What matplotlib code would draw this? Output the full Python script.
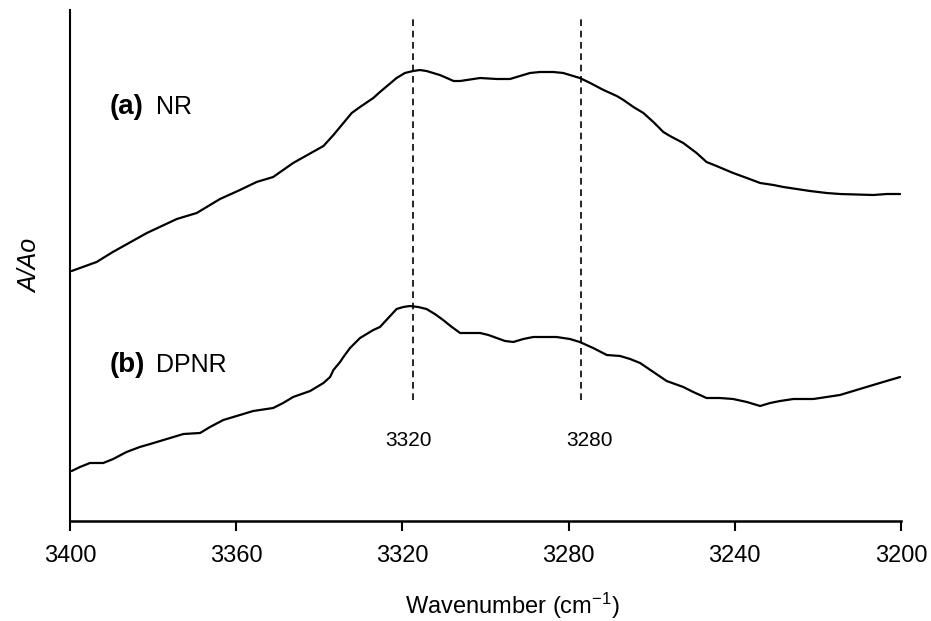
import matplotlib
matplotlib.use("Agg")
import matplotlib.pyplot as plt

plt.rcParams['font.family'] = ['Liberation Sans', 'DejaVu Sans']
plt.rcParams['mathtext.fontset'] = 'custom'
plt.rcParams['mathtext.rm'] = 'Liberation Sans'
plt.rcParams['mathtext.it'] = 'Liberation Sans:italic'
plt.rcParams['mathtext.bf'] = 'Liberation Sans:bold'

# Wavenumber (cm-1) and relative absorbance
wn_nr = [3399.6, 3393.6, 3389.7, 3381.5, 3374.3, 3369.5, 3363.9, 3359.1, 3355.1, 3351.1,
         3346.3, 3339.0, 3336.6, 3334.2, 3332.2, 3330.2, 3327.0, 3325.4, 3323.4, 3321.4,
         3319.4, 3317.4, 3315.8, 3314.2, 3312.6, 3311.0, 3309.3, 3307.7, 3306.1, 3304.5,
         3301.3, 3297.3, 3294.1, 3292.5, 3290.9, 3289.3, 3286.9, 3283.7, 3281.3, 3278.9,
         3277.3, 3274.8, 3271.6, 3268.4, 3266.8, 3264.4, 3262.0, 3259.6, 3257.2, 3255.6,
         3252.4, 3249.2, 3246.8, 3244.4, 3240.4, 3237.1, 3233.9, 3230.7, 3228.3, 3221.9,
         3217.9, 3214.7, 3206.7, 3203.4, 3200.2]
a_nr = [2.50, 2.59, 2.69, 2.88, 3.02, 3.08, 3.22, 3.31, 3.39, 3.44,
        3.58, 3.75, 3.86, 3.98, 4.08, 4.14, 4.23, 4.29, 4.36, 4.43,
        4.48, 4.50, 4.51, 4.50, 4.48, 4.46, 4.43, 4.40, 4.40, 4.41,
        4.43, 4.42, 4.42, 4.44, 4.46, 4.48, 4.49, 4.49, 4.48, 4.45,
        4.43, 4.38, 4.31, 4.25, 4.21, 4.14, 4.08, 3.99, 3.89, 3.85,
        3.78, 3.68, 3.59, 3.55, 3.48, 3.43, 3.38, 3.36, 3.34, 3.30,
        3.28, 3.27, 3.26, 3.27, 3.27]

wn_dpnr = [3399.6, 3397.6, 3395.2, 3392.0, 3389.6, 3386.4, 3383.2, 3380.7, 3376.7, 3372.7,
           3368.7, 3366.3, 3363.1, 3359.9, 3355.9, 3351.1, 3348.7, 3346.3, 3342.2, 3339.0,
           3337.4, 3336.6, 3335.0, 3334.2, 3332.6, 3330.2, 3329.4, 3327.0, 3325.4, 3323.4,
           3321.4, 3319.8, 3318.2, 3316.2, 3314.2, 3312.2, 3310.2, 3308.1, 3306.1, 3303.7,
           3301.3, 3299.3, 3297.3, 3295.3, 3293.3, 3290.9, 3288.5, 3285.3, 3282.9, 3279.7,
           3277.3, 3274.1, 3270.8, 3267.6, 3265.2, 3262.8, 3259.6, 3256.4, 3252.4, 3250.0,
           3246.8, 3243.6, 3240.4, 3237.1, 3233.9, 3231.5, 3229.1, 3225.9, 3221.1, 3217.9,
           3214.7, 3211.5, 3208.3, 3204.3, 3200.2]
a_dpnr = [0.50, 0.54, 0.58, 0.58, 0.62, 0.69, 0.74, 0.77, 0.82, 0.87,
          0.88, 0.94, 1.01, 1.05, 1.10, 1.13, 1.18, 1.24, 1.30, 1.38,
          1.44, 1.51, 1.59, 1.64, 1.73, 1.83, 1.85, 1.91, 1.94, 2.03,
          2.12, 2.14, 2.15, 2.14, 2.12, 2.07, 2.01, 1.94, 1.88, 1.88,
          1.88, 1.86, 1.83, 1.80, 1.79, 1.82, 1.84, 1.84, 1.84, 1.82,
          1.79, 1.73, 1.66, 1.65, 1.62, 1.58, 1.49, 1.40, 1.34, 1.29,
          1.23, 1.23, 1.22, 1.19, 1.15, 1.18, 1.20, 1.22, 1.22, 1.24,
          1.26, 1.30, 1.34, 1.39, 1.44]

x_ticks = [3400, 3360, 3320, 3280, 3240, 3200]
marker_wn = [3317.4, 3277.0]
marker_labels = ["3320", "3280"]
marker_label_wn = [3318.6, 3274.9]

fig = plt.figure(figsize=(9.31, 6.21), dpi=100)
ax = fig.add_axes([70/931, 1 - 521/621, 831/931, 511/621])

ax.plot(wn_nr, a_nr, color='black', lw=1.6, solid_joinstyle='round', solid_capstyle='round')
ax.plot(wn_dpnr, a_dpnr, color='black', lw=1.6, solid_joinstyle='round', solid_capstyle='round')

for w in marker_wn:
    ax.plot([w, w], [1.21, 5.04], color='black', lw=1.2, ls=(0, (4, 2.8)))
for w, lab in zip(marker_label_wn, marker_labels):
    ax.text(w, 0.80, lab, ha='center', va='center', fontsize=15)

ax.text(3390.4, 4.14, "(a)", fontweight='bold', fontsize=20, ha='left', va='center')
ax.text(3379.3, 4.14, "NR", fontsize=18, ha='left', va='center')
ax.text(3390.4, 1.56, "(b)", fontweight='bold', fontsize=20, ha='left', va='center')
ax.text(3379.3, 1.56, "DPNR", fontsize=18, ha='left', va='center')

ax.set_xlim(3400, 3200)
ax.set_ylim(0, 5.11)
ax.set_xticks(x_ticks)
ax.set_xticklabels([str(t) for t in x_ticks])
ax.set_yticks([])
ax.tick_params(axis='x', direction='out', length=7, width=1.5, labelsize=17, pad=10)
ax.spines['top'].set_visible(False)
ax.spines['right'].set_visible(False)
ax.spines['left'].set_linewidth(1.5)
ax.spines['bottom'].set_linewidth(1.8)

ax.set_xlabel("Wavenumber (cm$^{-1}$)", fontsize=17)
ax.xaxis.set_label_coords(0.532, -0.136)
ax.set_ylabel("A/Ao", fontsize=18, fontstyle='italic')
ax.yaxis.set_label_coords(-0.034, 0.5)

fig.savefig("out.png", dpi=100)
